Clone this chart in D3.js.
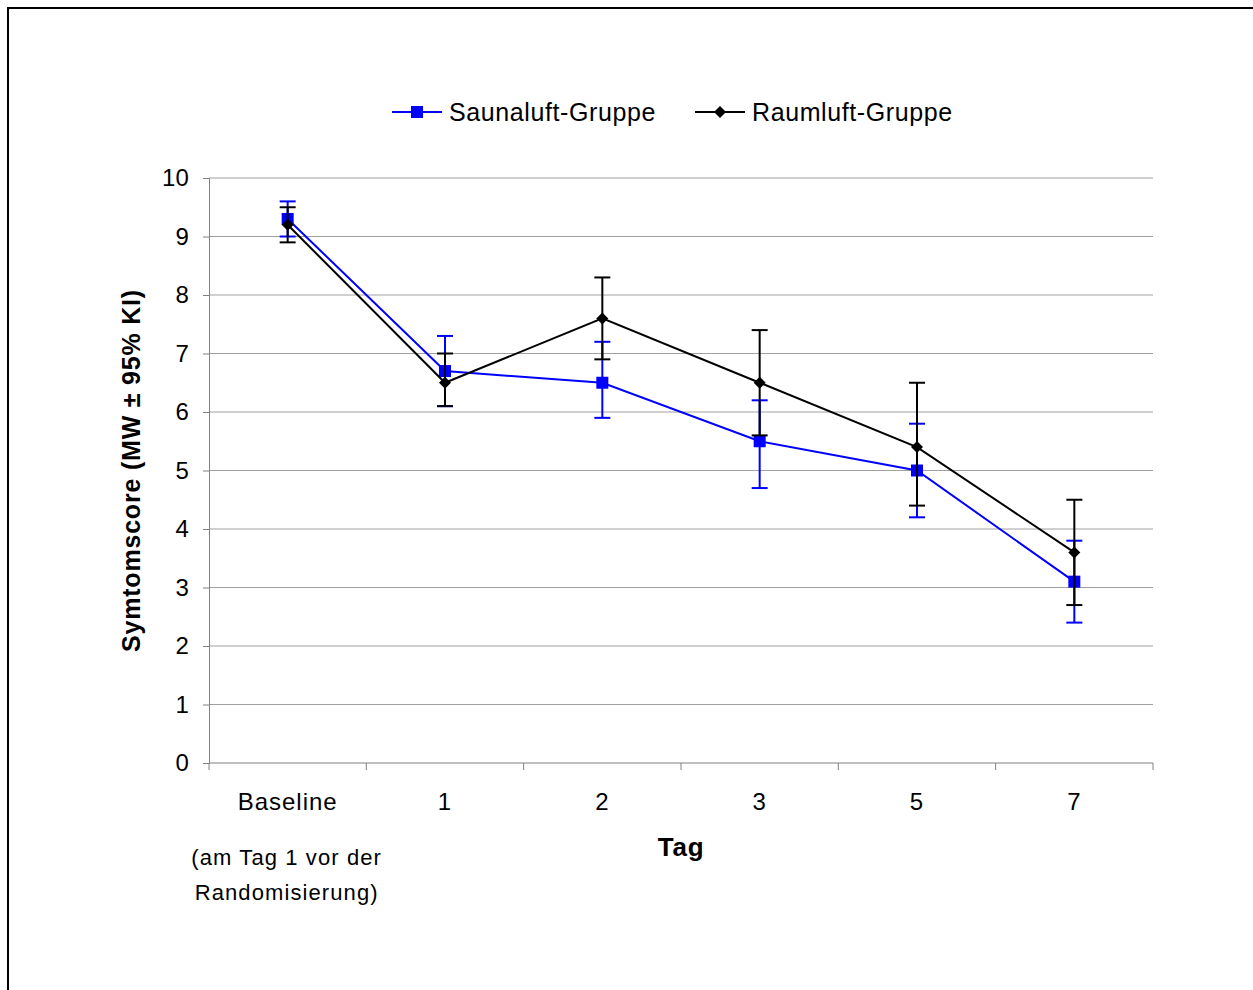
<!DOCTYPE html>
<html>
<head>
<meta charset="utf-8">
<script src="https://cdn.jsdelivr.net/npm/d3@7"></script>
<style>
  html, body { margin: 0; padding: 0; background: #fff; }
  svg { display: block; font-family: "Liberation Sans", Arial, sans-serif; }
</style>
</head>
<body>
<div id="chart"></div>
<script>
// ===== Data =====
const categories = ['Baseline', '1', '2', '3', '5', '7'];
const yTicks = [0, 1, 2, 3, 4, 5, 6, 7, 8, 9, 10];

const saunaMean = [9.3, 6.7, 6.5, 5.5, 5.0, 3.1];
const saunaLower = [9.0, 6.1, 5.9, 4.7, 4.2, 2.4];
const saunaUpper = [9.6, 7.3, 7.2, 6.2, 5.8, 3.8];

const raumMean = [9.2, 6.5, 7.6, 6.5, 5.4, 3.6];
const raumLower = [8.9, 6.1, 6.9, 5.6, 4.4, 2.7];
const raumUpper = [9.5, 7.0, 8.3, 7.4, 6.5, 4.5];

const seriesNames = ['Saunaluft-Gruppe', 'Raumluft-Gruppe'];

// ===== Layout =====
const W = 1253, H = 990;
const margin = { top: 178, right: 100, bottom: 227, left: 209 };
const width = W - margin.left - margin.right;   // 944
const height = H - margin.top - margin.bottom;  // 585

const svg = d3.select('#chart')
  .append('svg')
  .attr('width', W)
  .attr('height', H);

// outer frame (runs off right and bottom edge)
svg.append('rect')
  .attr('x', 8).attr('y', 8)
  .attr('width', W + 20).attr('height', H + 20)
  .attr('fill', 'none')
  .attr('stroke', '#000')
  .attr('stroke-width', 2);

const g = svg.append('g')
  .attr('transform', `translate(${margin.left},${margin.top})`);

const x = d3.scaleBand()
  .domain(categories)
  .range([0, width])
  .padding(0);

const y = d3.scaleLinear()
  .domain([0, 10])
  .range([height, 0]);

// gridlines
g.append('g')
  .selectAll('line')
  .data(yTicks.filter(d => d > 0))
  .enter().append('line')
  .attr('x1', 0).attr('x2', width)
  .attr('y1', d => y(d)).attr('y2', d => y(d))
  .attr('stroke', '#a0a0a0')
  .attr('stroke-width', 1);

// y axis
g.append('g')
  .call(d3.axisLeft(y).tickValues(yTicks).tickSize(6).tickPadding(14))
  .call(a => a.selectAll('.domain, .tick line').attr('stroke', '#808080'))
  .call(a => a.selectAll('text')
    .attr('fill', '#000')
    .style('font-size', '24px')
    .style('letter-spacing', '0.2px')
    .style('font-family', '"Liberation Sans", Arial, sans-serif'));

// x axis: ticks between categories
const xAxis = g.append('g').attr('transform', `translate(0,${height})`);
xAxis.append('line')
  .attr('x1', 0).attr('x2', width)
  .attr('stroke', '#808080');
const edges = categories.map(c => x(c)).concat([width]);
xAxis.selectAll('.edge')
  .data(edges)
  .enter().append('line')
  .attr('class', 'edge')
  .attr('x1', d => d).attr('x2', d => d)
  .attr('y1', 0).attr('y2', 7)
  .attr('stroke', '#808080');
xAxis.selectAll('.cat')
  .data(categories)
  .enter().append('text')
  .attr('class', 'cat')
  .attr('x', d => x(d) + x.bandwidth() / 2)
  .attr('y', 47)
  .attr('text-anchor', 'middle')
  .style('font-size', '24px')
  .style('letter-spacing', '1px')
  .text(d => d);

// baseline note
const noteX = x('Baseline') + x.bandwidth() / 2 - 1;
g.append('text')
  .attr('x', noteX).attr('y', height + 102)
  .attr('text-anchor', 'middle')
  .style('font-size', '22px')
  .style('letter-spacing', '1.1px')
  .text('(am Tag 1 vor der');
g.append('text')
  .attr('x', noteX).attr('y', height + 137)
  .attr('text-anchor', 'middle')
  .style('font-size', '22px')
  .style('letter-spacing', '1.1px')
  .text('Randomisierung)');

// axis titles
g.append('text')
  .attr('x', width / 2).attr('y', height + 93)
  .attr('text-anchor', 'middle')
  .style('font-size', '26px')
  .style('letter-spacing', '0.8px')
  .style('font-weight', 'bold')
  .text('Tag');

g.append('text')
  .attr('transform', `translate(-69,${height / 2}) rotate(-90)`)
  .attr('text-anchor', 'middle')
  .style('font-size', '25px')
  .style('letter-spacing', '0.8px')
  .style('font-weight', 'bold')
  .text('Symtomscore (MW ± 95% KI)');

// ===== Series =====
const cx = c => x(c) + x.bandwidth() / 2;

function drawSeries(mean, lower, upper, color, marker) {
  const layer = g.append('g');
  const data = categories.map((c, i) => ({ c, m: mean[i], lo: lower[i], hi: upper[i] }));

  // error bars
  const eb = layer.selectAll('.eb').data(data).enter().append('g');
  eb.append('line')
    .attr('x1', d => cx(d.c)).attr('x2', d => cx(d.c))
    .attr('y1', d => y(d.lo)).attr('y2', d => y(d.hi))
    .attr('stroke', color).attr('stroke-width', 2);
  ['lo', 'hi'].forEach(k => {
    eb.append('line')
      .attr('x1', d => cx(d.c) - 8).attr('x2', d => cx(d.c) + 8)
      .attr('y1', d => y(d[k])).attr('y2', d => y(d[k]))
      .attr('stroke', color).attr('stroke-width', 2);
  });

  // line
  layer.append('path')
    .datum(data)
    .attr('fill', 'none')
    .attr('stroke', color)
    .attr('stroke-width', 2)
    .attr('d', d3.line().x(d => cx(d.c)).y(d => y(d.m)));

  // markers
  layer.selectAll('.mk').data(data).enter().append('path')
    .attr('transform', d => `translate(${cx(d.c)},${y(d.m)})`)
    .attr('d', marker)
    .attr('fill', color);
  return layer;
}

const squareSym = 'M-6,-6H6V6H-6Z';
const diamondSym = 'M0,-6L6,0L0,6L-6,0Z';

drawSeries(saunaMean, saunaLower, saunaUpper, '#0000ff', squareSym);
drawSeries(raumMean, raumLower, raumUpper, '#000000', diamondSym);

// ===== Legend =====
const legend = svg.append('g');
const legendItems = [
  { name: seriesNames[0], color: '#0000ff', sym: squareSym, x: 392 },
  { name: seriesNames[1], color: '#000000', sym: diamondSym, x: 695 }
];
const li = legend.selectAll('g').data(legendItems).enter().append('g')
  .attr('transform', d => `translate(${d.x},112)`);
li.append('line')
  .attr('x1', 0).attr('x2', 50)
  .attr('stroke', d => d.color).attr('stroke-width', 2);
li.append('path')
  .attr('transform', 'translate(25,0)')
  .attr('d', d => d.sym)
  .attr('fill', d => d.color);
li.append('text')
  .attr('x', 57).attr('y', 0)
  .attr('dy', '0.35em')
  .style('font-size', '25px')
  .style('letter-spacing', '0.6px')
  .text(d => d.name);
</script>
</body>
</html>
